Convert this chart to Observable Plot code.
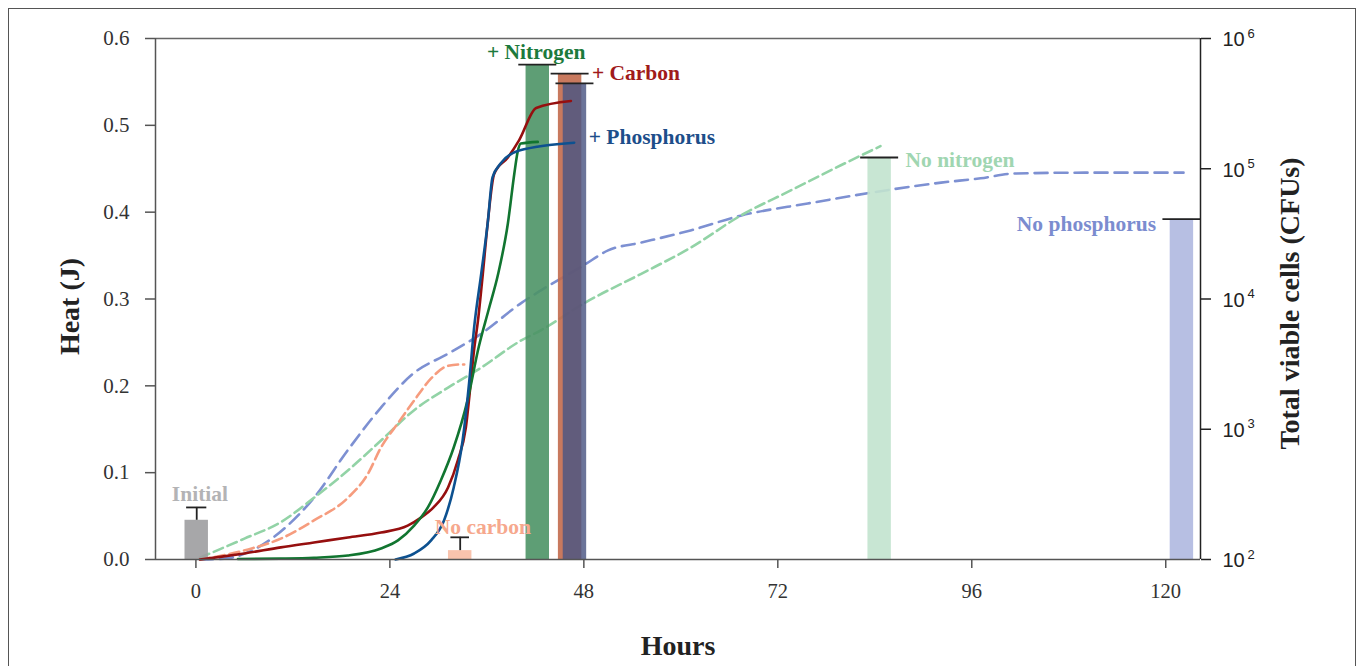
<!DOCTYPE html>
<html><head><meta charset="utf-8">
<script src="https://cdn.jsdelivr.net/npm/d3@7"></script>
<script src="https://cdn.jsdelivr.net/npm/@observablehq/plot@0.6"></script>
<style>
html,body{margin:0;padding:0;background:#fff;overflow:hidden;width:1360px;height:666px;}
#frame{position:absolute;left:8px;top:8px;width:1348px;height:720px;border:1.5px solid #555;box-sizing:border-box;}
#chart{position:absolute;left:0;top:0;}
</style></head><body><div id="frame"></div><div id="chart"></div>
<script>
// ---------- data ----------
const hourTicks = [0, 24, 48, 72, 96, 120];
const heatTicks = [0, 0.1, 0.2, 0.3, 0.4, 0.5, 0.6];
const cfuExponents = [2, 3, 4, 5, 6];

// heat curves (hours, J)
const plusCarbonHours = [0.5, 3, 6, 10.5, 14.6, 18.8, 22.9, 26.2, 27.8, 29.4, 31.2, 32.4, 33.4, 34.0, 34.4, 34.9, 35.5, 36.1, 36.9, 38.6, 40.0, 42.1, 46.4];
const plusCarbonHeat  = [0, 0.003, 0.007, 0.014, 0.0196, 0.0253, 0.031, 0.039, 0.048, 0.060, 0.083, 0.114, 0.152, 0.203, 0.24, 0.275, 0.329, 0.387, 0.444, 0.463, 0.483, 0.52, 0.528];

const plusNitrogenHours = [5.2, 10.5, 14.6, 18.8, 22.9, 25.0, 27.0, 28.7, 30.3, 31.9, 33.6, 35.0, 36.2, 37.4, 38.6, 39.4, 39.8, 40.2, 42.3];
const plusNitrogenHeat  = [0.0005, 0.001, 0.002, 0.0046, 0.0127, 0.022, 0.039, 0.06, 0.091, 0.129, 0.183, 0.245, 0.287, 0.329, 0.387, 0.4445, 0.469, 0.479, 0.481];

const plusPhosphorusHours = [24.7, 27.0, 29.1, 30.7, 31.9, 33.0, 33.8, 34.4, 35.3, 36.1, 36.7, 37.7, 40.0, 46.8];
const plusPhosphorusHeat  = [0, 0.0069, 0.022, 0.045, 0.083, 0.137, 0.203, 0.265, 0.329, 0.387, 0.44, 0.456, 0.471, 0.480];

const noCarbonHours = [0.5, 4, 7, 10.5, 14.6, 18.8, 21.3, 22.9, 25.0, 27.0, 29.1, 31.2, 32.8, 33.2];
const noCarbonHeat  = [0, 0.006, 0.013, 0.024, 0.045, 0.071, 0.099, 0.129, 0.157, 0.183, 0.2085, 0.223, 0.2246, 0.2245];

const noNitrogenHours = [0.5, 3, 6, 10.5, 14.6, 18.8, 22.9, 27.0, 31.2, 35.3, 40.2, 42.7, 48.0, 55.1, 61.2, 67.4, 73.6, 79.8, 84.7];
const noNitrogenHeat  = [0.002, 0.012, 0.024, 0.043, 0.071, 0.1025, 0.137, 0.172, 0.198, 0.221, 0.252, 0.264, 0.295, 0.329, 0.359, 0.396, 0.425, 0.454, 0.476];

const noPhosphorusHours = [0.5, 3.5, 7.7, 11.1, 14.6, 18.8, 22.9, 27.0, 31.2, 35.3, 40.2, 42.7, 48.0, 51.0, 55.1, 61.2, 67.4, 75.7, 83.9, 92.2, 97.1, 101.2, 110, 122.2];
const noPhosphorusHeat  = [0, 0.001, 0.014, 0.037, 0.071, 0.126, 0.175, 0.215, 0.237, 0.260, 0.295, 0.310, 0.339, 0.356, 0.365, 0.379, 0.396, 0.410, 0.423, 0.434, 0.439, 0.4445, 0.4455, 0.4455];

// viable cell bars (hours, CFUs)
const barNames = ["Initial", "No carbon", "+ Nitrogen", "+ Carbon", "+ Phosphorus", "No nitrogen", "No phosphorus"];
const barHours = [0.1, 32.7, 42.3, 46.3, 46.9, 84.6, 122.0];
const barCFU   = [200, 117, 631000, 537000, 452000, 122000, 41000];
const barUpperCFU = [251, 148, 631000, 537000, 452000, 122000, 41000];

// labels (hours, heat)
const labelNames = ["Initial", "No carbon", "+ Nitrogen", "+ Carbon", "+ Phosphorus", "No nitrogen", "No phosphorus"];
const labelHours = [0.5, 35.5, 42.1, 49.0, 48.6, 87.8, 118.8];
const labelHeat  = [0.0749, 0.0369, 0.584, 0.5597, 0.486, 0.4595, 0.3858];

// ---------- styles ----------
const xMin = -5, xMax = 124.3;
const toHeat = cfu => (Math.log10(cfu) - 2) * 0.15;
const barHalf = 1.45;
const barFill = {"Initial": "#9d9da0", "No carbon": "#f8bca4", "+ Nitrogen": "#4d9466", "+ Carbon": "#c26a4d",
  "+ Phosphorus": "#4b5582", "No nitrogen": "#c2e3ce", "No phosphorus": "#afb8e0"};
const capHalf = {"Initial": 1.25, "No carbon": 1.15};
const labelColor = {"Initial": "#b3b3b5", "No carbon": "#f6a88d", "+ Nitrogen": "#1c7a3c", "+ Carbon": "#a01a1a",
  "+ Phosphorus": "#1d4e8a", "No nitrogen": "#a0d6b1", "No phosphorus": "#7b8ccf"};
const labelAnchor = {"+ Carbon": "start", "+ Phosphorus": "start", "No nitrogen": "start", "No phosphorus": "end"};

const mk = (name, hs, vs) => hs.map((h, i) => ({name, hour: h, heat: vs[i]}));
const solid = [
  {data: mk("+ Carbon", plusCarbonHours, plusCarbonHeat), color: "#960f0f"},
  {data: mk("+ Nitrogen", plusNitrogenHours, plusNitrogenHeat), color: "#117530"},
  {data: mk("+ Phosphorus", plusPhosphorusHours, plusPhosphorusHeat), color: "#0d5190"}
];
const dashed = [
  {data: mk("No phosphorus", noPhosphorusHours, noPhosphorusHeat), color: "#7d90d2", dash: "13,7"},
  {data: mk("No nitrogen", noNitrogenHours, noNitrogenHeat), color: "#92d3a6", dash: "10,5"},
  {data: mk("No carbon", noCarbonHours, noCarbonHeat), color: "#f69c7e", dash: "10,5"}
];

const bars = barNames.map((n, i) => ({name: n, hour: barHours[i], top: toHeat(barCFU[i]), upper: toHeat(barUpperCFU[i])}));
const labels = labelNames.map((n, i) => ({name: n, hour: labelHours[i], heat: labelHeat[i], anchor: labelAnchor[n] ?? "middle"}));

const serif = "'Liberation Serif', 'Times New Roman', serif";
const sans = "'Liberation Sans', Arial, sans-serif";

const barMark = (data, extra = {}) => Plot.rect(data, {
  x1: d => d.hour - barHalf, x2: d => d.hour + barHalf, y1: 0, y2: "top",
  fill: d => barFill[d.name], fillOpacity: 0.9, ...extra
});
const labelMark = anchor => Plot.text(labels.filter(d => d.anchor === anchor), {x: "hour", y: "heat", text: "name",
  fill: d => labelColor[d.name], textAnchor: anchor, fontSize: 21.5, fontWeight: "bold", fontFamily: serif});

const chart = Plot.plot({
  width: 1360, height: 666,
  marginLeft: 155, marginRight: 160, marginTop: 38, marginBottom: 107,
  x: {domain: [xMin, xMax]},
  y: {domain: [0, 0.6]},
  style: {background: "transparent", fontFamily: serif, overflow: "visible"},
  marks: [
    // dashed heat curves (behind bars)
    ...dashed.map(s => Plot.line(s.data, {x: "hour", y: "heat", stroke: s.color, strokeWidth: 2.6,
      strokeDasharray: s.dash, curve: "monotone-x"})),
    // bars
    barMark(bars.filter(d => d.name !== "+ Phosphorus")),
    barMark(bars.filter(d => d.name === "+ Phosphorus"), {fillOpacity: 0.82}),
    // error stems and caps
    Plot.ruleX(bars.filter(d => d.upper > d.top), {x: "hour", y1: "top", y2: "upper", stroke: "#222", strokeWidth: 1.8}),
    Plot.ruleY(bars, {y: "upper", x1: d => d.hour - (capHalf[d.name] ?? 2.35), x2: d => d.hour + (capHalf[d.name] ?? 2.35),
      stroke: "#222", strokeWidth: 1.8}),
    // solid heat curves
    ...solid.map(s => Plot.line(s.data, {x: "hour", y: "heat", stroke: s.color, strokeWidth: 2.6, curve: "monotone-x"})),
    // frame lines
    Plot.ruleY([0], {stroke: "#555", strokeWidth: 1.5}),
    Plot.ruleY([0.6], {stroke: "#666", strokeWidth: 1.5}),
    Plot.ruleX([xMin], {stroke: "#555", strokeWidth: 1.5}),
    Plot.ruleX([xMax], {stroke: "#222", strokeWidth: 1.5}),
    // axes
    Plot.axisX({ticks: hourTicks, tickFormat: d3.format("d"), tickSize: 9, tickPadding: 15, fontSize: 20.5,
      fill: "#333", stroke: "#555", strokeWidth: 1.5, label: null, fontFamily: serif}),
    Plot.axisY({ticks: heatTicks, tickFormat: d3.format(".1f"), tickSize: 10, tickPadding: 16, fontSize: 21,
      fill: "#333", stroke: "#555", strokeWidth: 1.5, label: null, fontFamily: serif}),
    Plot.axisY(cfuExponents.map(e => (e - 2) * 0.15), {anchor: "right", tickSize: 10, tickFormat: () => "",
      stroke: "#222", strokeWidth: 1.5, label: null}),
    Plot.text(cfuExponents, {y: e => (e - 2) * 0.15, frameAnchor: "right", text: () => "10", dx: 22, dy: 1.5,
      textAnchor: "start", fontFamily: sans, fontSize: 20, fill: "#222"}),
    Plot.text(cfuExponents, {y: e => (e - 2) * 0.15, frameAnchor: "right", text: e => String(e), dx: 47, dy: -5,
      textAnchor: "start", fontFamily: sans, fontSize: 13, fill: "#222"}),
    // axis titles
    Plot.text(["Hours"], {frameAnchor: "bottom", lineAnchor: "middle", textAnchor: "middle", dy: 87, fontSize: 28, fontWeight: "bold", fill: "#222", fontFamily: serif}),
    Plot.text(["Heat (J)"], {frameAnchor: "left", lineAnchor: "middle", textAnchor: "middle", rotate: -90, dx: -85, dy: 7.5, fontSize: 28, fontWeight: "bold", fill: "#222", fontFamily: serif}),
    Plot.text(["Total viable cells (CFUs)"], {frameAnchor: "right", lineAnchor: "middle", textAnchor: "middle", rotate: -90, dx: 90, dy: 4.5, fontSize: 28, fontWeight: "bold", fill: "#222", fontFamily: serif}),
    // series labels
    labelMark("middle"),
    labelMark("start"),
    labelMark("end")
  ]
});
document.getElementById("chart").appendChild(chart);
</script></body></html>
